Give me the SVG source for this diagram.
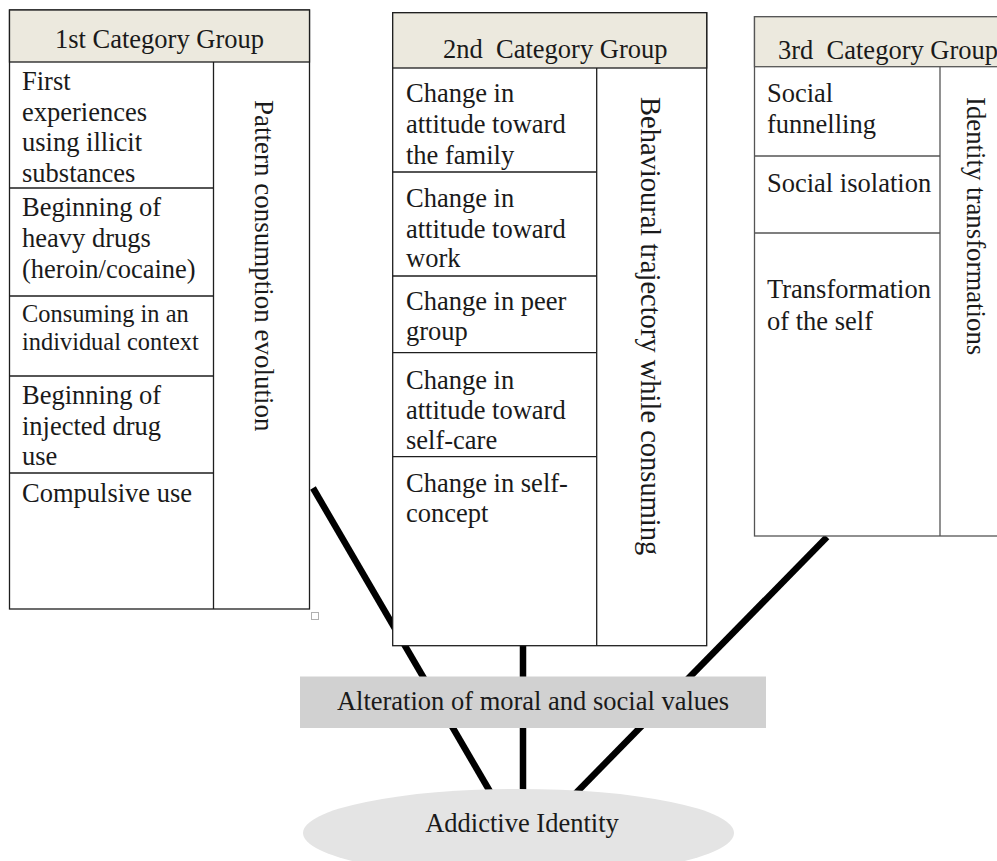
<svg xmlns="http://www.w3.org/2000/svg" width="997" height="861" viewBox="0 0 997 861" font-family="'Liberation Serif', 'Times New Roman', 'DejaVu Serif', serif">
  <style>
    text { font-family: 'Liberation Serif', 'Times New Roman', 'DejaVu Serif', serif; fill: #1a1a1a; font-size: 26.5px; white-space: pre; }
    .frame { fill: #ffffff; stroke: #1e1e1e; stroke-width: 1.3; }
    .frame3 { fill: #ffffff; stroke: #555555; stroke-width: 1.3; }
    .head { fill: #ece9de; stroke: #1e1e1e; stroke-width: 1.3; }
    .head3 { fill: #ece9de; stroke: #555555; stroke-width: 1.3; }
    .rule { stroke: #1e1e1e; stroke-width: 1.3; fill: none; }
    .rule3 { stroke: #555555; stroke-width: 1.3; fill: none; }
    .link { stroke: #000000; stroke-width: 6.5; fill: none; stroke-linecap: butt; }
    .small { font-size: 24.4px; }
  </style>

  <!-- thick connectors, drawn first so the boxes sit over them -->
  <g id="connectors">
    <line class="link" x1="313" y1="488" x2="492" y2="795"/>
    <line class="link" x1="523" y1="645" x2="523" y2="795"/>
    <line class="link" x1="827" y1="537" x2="574" y2="795"/>
  </g>

  <!-- group 1: consumption pattern -->
  <g id="group1">
    <rect class="frame" x="9.5" y="10" width="300" height="599"/>
    <rect class="head" x="9.5" y="10" width="300" height="52"/>
    <text x="159.5" y="47.5" text-anchor="middle">1st Category Group</text>
    <line class="rule" x1="213.5" y1="62" x2="213.5" y2="609"/>
    <line class="rule" x1="9.5" y1="188" x2="213.5" y2="188"/>
    <line class="rule" x1="9.5" y1="296" x2="213.5" y2="296"/>
    <line class="rule" x1="9.5" y1="376" x2="213.5" y2="376"/>
    <line class="rule" x1="9.5" y1="473" x2="213.5" y2="473"/>
    <text x="22" y="89.5">First</text>
    <text x="22" y="120.5">experiences</text>
    <text x="22" y="151">using illicit</text>
    <text x="22" y="181.5">substances</text>
    <text x="22" y="216">Beginning of</text>
    <text x="22" y="247">heavy drugs</text>
    <text x="22" y="278">(heroin/cocaine)</text>
    <text class="small" x="22" y="321.5">Consuming in an</text>
    <text class="small" x="22" y="350">individual context</text>
    <text x="22" y="403.5">Beginning of</text>
    <text x="22" y="434.5">injected drug</text>
    <text x="22" y="465">use</text>
    <text x="22" y="501.5">Compulsive use</text>
    <text transform="translate(255,100) rotate(90)" style="font-size:27px">Pattern consumption evolution</text>
    <rect x="311.5" y="612.5" width="7" height="7" fill="none" stroke="#b0b0b0" stroke-width="1"/>
  </g>

  <!-- group 2: behavioural trajectory -->
  <g id="group2">
    <rect class="frame" x="392.7" y="12.7" width="314" height="633"/>
    <rect class="head" x="392.7" y="12.7" width="314" height="55.3"/>
    <text x="443" y="57.5">2nd  Category Group</text>
    <line class="rule" x1="596.7" y1="68" x2="596.7" y2="645.7"/>
    <line class="rule" x1="392.7" y1="172" x2="596.7" y2="172"/>
    <line class="rule" x1="392.7" y1="276" x2="596.7" y2="276"/>
    <line class="rule" x1="392.7" y1="352.7" x2="596.7" y2="352.7"/>
    <line class="rule" x1="392.7" y1="456.7" x2="596.7" y2="456.7"/>
    <text x="406" y="101.5">Change in</text>
    <text x="406" y="133">attitude toward</text>
    <text x="406" y="163.5">the family</text>
    <text x="406" y="206.5">Change in</text>
    <text x="406" y="237.5">attitude toward</text>
    <text x="406" y="267">work</text>
    <text x="406" y="310">Change in peer</text>
    <text x="406" y="340">group</text>
    <text x="406" y="388.5">Change in</text>
    <text x="406" y="418.5">attitude toward</text>
    <text x="406" y="448.5">self-care</text>
    <text x="406" y="491.5">Change in self-</text>
    <text x="406" y="521.5">concept</text>
    <text transform="translate(641,97) rotate(90)" style="font-size:28.5px">Behavioural trajectory while consuming</text>
  </g>

  <!-- group 3: identity transformations (runs past the right edge) -->
  <g id="group3">
    <rect class="frame3" x="754.5" y="16.7" width="260" height="519.3"/>
    <rect class="head3" x="754.5" y="16.7" width="260" height="50"/>
    <text x="778" y="58.5">3rd  Category Group</text>
    <line class="rule3" x1="940" y1="66.7" x2="940" y2="536"/>
    <line class="rule3" x1="754.5" y1="156" x2="940" y2="156"/>
    <line class="rule3" x1="754.5" y1="233" x2="940" y2="233"/>
    <text x="767" y="101.5">Social</text>
    <text x="767" y="133">funnelling</text>
    <text x="767" y="191.5">Social isolation</text>
    <text x="767" y="298">Transformation</text>
    <text x="767" y="330">of the self</text>
    <text transform="translate(967,97) rotate(90)" style="font-size:26.8px">Identity transformations</text>
  </g>

  <!-- shared band of values -->
  <g id="values">
    <rect x="300" y="676.5" width="466" height="51.5" fill="#d1d1d1"/>
    <text x="533" y="710" text-anchor="middle">Alteration of moral and social values</text>
  </g>

  <!-- resulting identity -->
  <g id="identity">
    <ellipse cx="518.5" cy="833" rx="215.5" ry="44" fill="#e4e4e4"/>
    <text x="522" y="832" text-anchor="middle">Addictive Identity</text>
  </g>
</svg>
